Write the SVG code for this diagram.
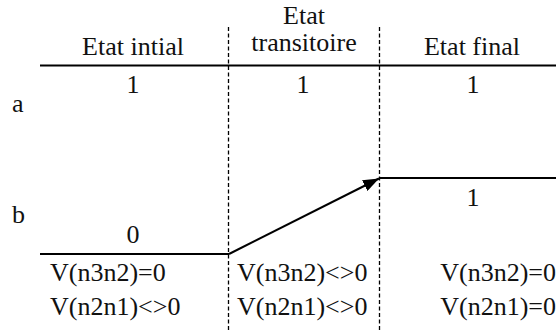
<svg xmlns="http://www.w3.org/2000/svg" width="556" height="330" viewBox="0 0 556 330">
<defs>
<marker id="arr" viewBox="0 0 16 12" refX="16" refY="6" markerWidth="16" markerHeight="12" markerUnits="userSpaceOnUse" orient="auto">
<path d="M0,0 L16,6 L0,12 z" fill="#000"/>
</marker>
<style>
text{font-family:"Liberation Serif","Times New Roman",serif;font-size:26px;fill:#111}
.c{text-anchor:middle}
.d{stroke:#000;stroke-width:1.3;stroke-dasharray:4,2.5;fill:none}
.s{stroke:#000;stroke-width:2;fill:none}
</style>
</defs>
<g id="grid">
<line class="s" x1="40" y1="65.5" x2="556" y2="65.5"/>
<line class="d" x1="228.5" y1="27" x2="228.5" y2="330"/>
<line class="d" x1="379.5" y1="27" x2="379.5" y2="330"/>
</g>
<g id="headers">
<text class="c" x="304" y="23.5">Etat</text>
<text class="c" x="133" y="55">Etat intial</text>
<text class="c" x="304" y="51">transitoire</text>
<text class="c" x="472" y="55">Etat final</text>
</g>
<g id="row-a">
<text x="12" y="112">a</text>
<text class="c" x="133" y="93">1</text>
<text class="c" x="303" y="93">1</text>
<text class="c" x="473" y="93">1</text>
</g>
<g id="row-b">
<text x="12" y="223">b</text>
<text class="c" x="133" y="243">0</text>
<text class="c" x="473" y="206">1</text>
</g>
<g id="connectors">
<line class="s" x1="40" y1="254" x2="229" y2="254"/>
<line class="s" x1="229" y1="254" x2="379" y2="178.5" marker-end="url(#arr)"/>
<line class="s" x1="379" y1="178" x2="556" y2="178"/>
</g>
<g id="conditions">
<text x="50" y="281">V(n3n2)=0</text>
<text x="50" y="315">V(n2n1)&lt;&gt;0</text>
<text x="237" y="281">V(n3n2)&lt;&gt;0</text>
<text x="237" y="315">V(n2n1)&lt;&gt;0</text>
<text x="556" y="281" text-anchor="end">V(n3n2)=0</text>
<text x="556" y="315" text-anchor="end">V(n2n1)=0</text>
</g>
</svg>
